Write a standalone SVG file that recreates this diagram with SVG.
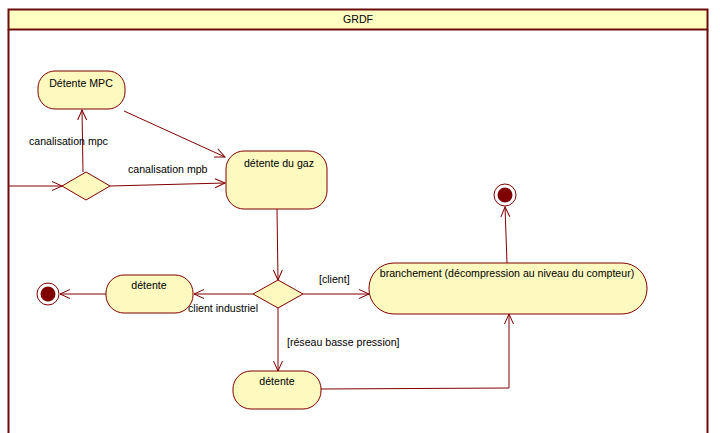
<svg xmlns="http://www.w3.org/2000/svg" width="720" height="433" viewBox="0 0 720 433">
<defs>
<style>
.lane{fill:none;stroke:#6b0c0c;stroke-width:2}
.hdr{fill:#ffffc4;stroke:#6b0c0c;stroke-width:2}
.node{fill:#fdf9bf;stroke:#800000;stroke-width:1}
.dia{fill:#fdf9bf;stroke:#800000;stroke-width:1}
.edge{fill:none;stroke:#800000;stroke-width:1;marker-end:url(#arr)}
text{font-family:"Liberation Sans",Arial,sans-serif;font-size:10.6px;fill:#000}
.mid{text-anchor:middle}
</style>
<marker id="arr" markerUnits="userSpaceOnUse" markerWidth="14" markerHeight="14" refX="11" refY="7" orient="auto">
<path d="M1,2.5 L11,7 L1,11.5" fill="none" stroke="#800000" stroke-width="1"/>
</marker>
</defs>
<rect width="720" height="433" fill="#ffffff"/>
<g id="lane">
<rect class="hdr" x="8.5" y="9.5" width="699" height="20"/>
<path class="lane" d="M8.5,29.5 L8.5,440 M707.5,29.5 L707.5,440"/>
<text class="mid" x="358" y="23">GRDF</text>
</g>
<g id="connectors">
<path class="edge" d="M8,186 L62,186"/>
<path class="edge" d="M83,172 L82,110"/>
<path class="edge" d="M124,111 L225,157"/>
<path class="edge" d="M110,186 L225,183"/>
<path class="edge" d="M277,209 L278,280"/>
<path class="edge" d="M253,294 L194,294"/>
<path class="edge" d="M106,294 L60,294"/>
<path class="edge" d="M303,294 L369,294"/>
<path class="edge" d="M278,308 L278,371"/>
<path class="edge" d="M321,389 L509,388 L509,314"/>
<path class="edge" d="M507,263 L505,207"/>
<text x="29" y="145">canalisation mpc</text>
<text x="128" y="173">canalisation mpb</text>
<text x="188" y="312">client industriel</text>
<text x="319" y="283">[client]</text>
<text x="287" y="346">[réseau basse pression]</text>
</g>
<g id="detente-mpc">
<rect class="node" x="38" y="71" width="87" height="38" rx="17" ry="17"/>
<text class="mid" x="81" y="87">Détente MPC</text>
</g>
<g id="decision1">
<polygon class="dia" points="62,186 86,172 110,186 86,200"/>
</g>
<g id="detente-gaz">
<rect class="node" x="226" y="151" width="101" height="58" rx="18" ry="18"/>
<text class="mid" x="279" y="167">détente du gaz</text>
</g>
<g id="decision2">
<polygon class="dia" points="253,294 278,280 303,294 278,308"/>
</g>
<g id="detente-left">
<rect class="node" x="106" y="275" width="87" height="38" rx="18" ry="18"/>
<text class="mid" x="149" y="289">détente</text>
</g>
<g id="final-left">
<circle cx="48" cy="294" r="11" fill="#ffffff" stroke="#800000" stroke-width="1"/>
<circle cx="48" cy="294" r="7.5" fill="#800000"/>
</g>
<g id="detente-bottom">
<rect class="node" x="233" y="371" width="88" height="38" rx="18" ry="18"/>
<text class="mid" x="277" y="385">détente</text>
</g>
<g id="branchement">
<rect class="node" x="369" y="263" width="278" height="51" rx="25" ry="25"/>
<text class="mid" x="507" y="277">branchement (décompression au niveau du compteur)</text>
</g>
<g id="final-top">
<circle cx="505" cy="195" r="11" fill="#ffffff" stroke="#800000" stroke-width="1"/>
<circle cx="505" cy="195" r="7.5" fill="#800000"/>
</g>
</svg>
